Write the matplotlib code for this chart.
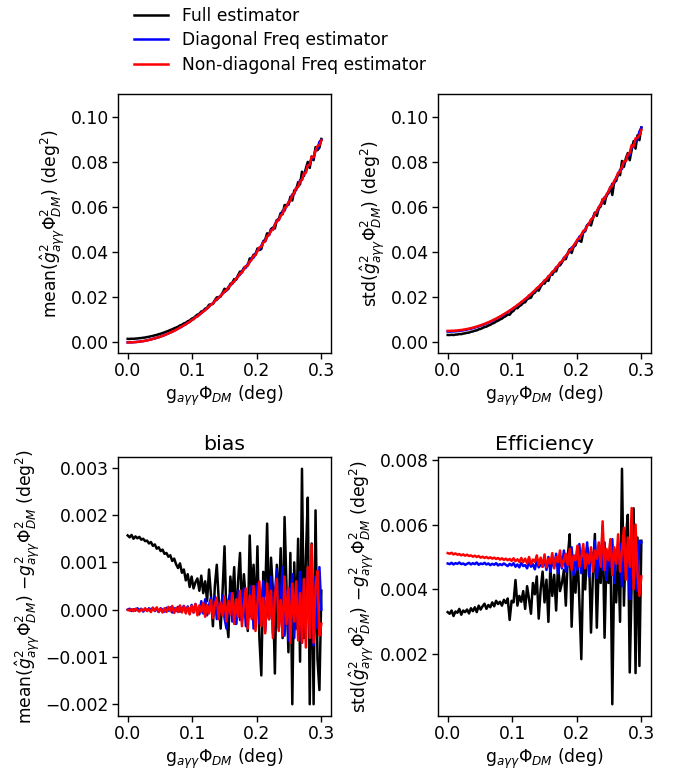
import numpy as np
import matplotlib
matplotlib.use("Agg")
import matplotlib.pyplot as plt

plt.rcParams["font.size"] = 12.3
plt.rcParams["lines.linewidth"] = 1.8
plt.rcParams["axes.linewidth"] = 1.0
plt.rcParams["axes.labelpad"] = 2.5
for t in ("xtick", "ytick"):
    plt.rcParams[t + ".major.size"] = 4.0
    plt.rcParams[t + ".major.width"] = 1.0
    plt.rcParams[t + ".major.pad"] = 2.5

# coupling grid, 101 points from 0 to 0.3 deg
g = np.linspace(0, 0.3, 101)

# bias = mean(g_hat^2) - g^2, in units of 1e-5 deg^2
bias_full = [157, 153, 158, 150, 155, 151, 154, 148, 150, 145,
             146, 140, 143, 135, 138, 129, 132, 124, 127, 118,
             120, 112, 115, 103, 108, 96, 88, 98, 78, 85,
             62, 75, 48, 70, 45, 58, 66, 40, 72, 35,
             60, 18, 85, 30, -35, 50, 95, 20, -40, 40,
             134, -20, -58, 70, 25, 90, -30, 60, 120, -10,
             75, 20, -45, 157, 30, 95, -20, 134, -60, -139,
             80, 30, 182, -20, 110, 40, -135, 95, 10, 130,
             -60, 196, 50, -90, 120, -200, 100, -40, 150, -110,
             298, -60, 110, 237, -200, 140, -200, 210, -104, -170,
             40]
bias_diag = [0, 2, -3, 1, -2, 3, -1, 2, -4, 1,
             -2, 3, -1, 4, -3, 2, -5, 3, 0, -4,
             4, -2, 5, -6, 3, -3, 6, -4, 2, 8,
             -5, 7, -8, 10, -6, 12, -4, -10, 18, -8,
             22, -12, 10, 25, -15, 28, -20, 15, -5, 30,
             -18, -40, 20, 35, -25, 10, -30, 40, -22, 15,
             45, -35, 25, -15, 50, -40, 20, 55, -30, 10,
             60, -45, 30, -20, 70, -50, 35, 85, -40, 15,
             90, -55, 40, -65, 20, 75, -60, 50, -45, 80,
             -70, 60, -30, 85, -50, 45, -75, 70, -40, 90,
             0]
bias_nondiag = [0, -2, 1, -3, 2, -1, -4, 1, -2, 3,
                -3, 1, -5, 4, -2, 5, -4, 2, -6, 3,
                -5, 6, -3, 8, -7, 4, -5, 9, -6, 7,
                -8, 5, -10, 8, -6, 12, -12, 9, -5, 14,
                -15, 10, -8, 20, -18, 12, 25, -20, 15, -12,
                28, -25, 18, -10, 35, -30, 22, -15, 40, -35,
                10, 45, -40, 30, -20, 50, -45, 15, 60, -35,
                25, -50, 55, -20, 40, -60, 30, 65, -45, 20,
                -55, 70, -30, 45, -70, 55, -25, 60, -65, 35,
                -70, 65, -80, 90, -60, 138, -70, 50, 82, -55,
                -30]

# efficiency = std(g_hat^2) - g^2, in units of 1e-5 deg^2
eff_full = [330, 325, 335, 318, 332, 328, 340, 322, 335, 330,
            338, 326, 342, 333, 345, 330, 350, 338, 348, 356,
            340, 352, 345, 360, 348, 365, 355, 362, 350, 368,
            358, 372, 306, 365, 360, 429, 350, 380, 362, 395,
            340, 410, 370, 325, 420, 385, 440, 310, 400, 455,
            360, 430, 300, 470, 380, 445, 335, 480, 395, 420,
            460, 350, 500, 570, 285, 450, 390, 520, 360, 185,
            480, 400, 530, 500, 267, 450, 571, 282, 480, 420,
            595, 251, 500, 420, 550, 46, 480, 360, 520, 300,
            772, 350, 560, 630, 144, 420, 650, 142, 560, 164,
            550]
eff_diag = [480, 478, 482, 477, 481, 479, 483, 478, 480, 476,
            479, 482, 477, 481, 478, 483, 476, 480, 478, 482,
            477, 480, 475, 479, 476, 481, 474, 478, 475, 480,
            476, 472, 479, 474, 481, 470, 477, 468, 482, 472,
            475, 465, 485, 470, 478, 462, 488, 468, 476, 470,
            490, 460, 500, 455, 485, 470, 510, 450, 495, 465,
            520, 455, 490, 470, 530, 445, 505, 460, 540, 450,
            500, 470, 545, 440, 515, 480, 550, 435, 500, 520,
            460, 545, 430, 510, 470, 555, 420, 520, 480, 540,
            410, 560, 450, 520, 370, 540, 430, 490, 395, 550,
            545]
eff_nondiag = [512, 510, 513, 508, 511, 507, 509, 505, 508, 504,
               507, 503, 505, 501, 504, 500, 503, 498, 501, 497,
               500, 496, 499, 495, 498, 494, 497, 492, 496, 491,
               495, 490, 494, 488, 496, 487, 493, 485, 497, 484,
               495, 480, 500, 478, 492, 485, 505, 475, 498, 470,
               508, 468, 495, 480, 512, 465, 500, 485, 520, 470,
               490, 510, 475, 525, 460, 505, 490, 535, 470, 500,
               540, 465, 510, 480, 530, 455, 520, 495, 545, 470,
               610, 460, 525, 490, 555, 445, 530, 480, 570, 455,
               520, 590, 430, 560, 470, 651, 400, 600, 450, 380,
               440]

labels = ["Full estimator", "Diagonal Freq estimator", "Non-diagonal Freq estimator"]
colors = ["black", "blue", "red"]

bias = [np.array(b) * 1e-5 for b in (bias_full, bias_diag, bias_nondiag)]
eff = [np.array(e) * 1e-5 for e in (eff_full, eff_diag, eff_nondiag)]

fig = plt.figure(figsize=(6.81, 7.7), dpi=100)
ax1 = fig.add_axes([0.1733, 0.5416, 0.3128, 0.3364])
ax2 = fig.add_axes([0.6432, 0.5416, 0.3128, 0.3364])
ax3 = fig.add_axes([0.1733, 0.0701, 0.3128, 0.3364])
ax4 = fig.add_axes([0.6432, 0.0701, 0.3128, 0.3364])

xlab = r"g$_{a\gamma\gamma}\Phi_{DM}$ (deg)"

for b, e, c, lab in zip(bias, eff, colors, labels):
    ax1.plot(g, g**2 + b, color=c, label=lab)
    ax2.plot(g, g**2 + e, color=c)
    ax3.plot(g, b, color=c)
    ax4.plot(g, e, color=c)

ax1.set_ylim(-0.0047, 0.1104)
ax2.set_ylim(-0.0047, 0.1104)
ax1.set_ylabel(r"mean($\hat{g}^2_{a\gamma\gamma}\Phi^2_{DM}$) (deg$^2$)")
ax2.set_ylabel(r"std($\hat{g}^2_{a\gamma\gamma}\Phi^2_{DM}$) (deg$^2$)")
ax3.set_ylabel(r"mean($\hat{g}^2_{a\gamma\gamma}\Phi^2_{DM}$) $- g^2_{a\gamma\gamma}\Phi^2_{DM}$ (deg$^2$)")
ax4.set_ylabel(r"std($\hat{g}^2_{a\gamma\gamma}\Phi^2_{DM}$) $- g^2_{a\gamma\gamma}\Phi^2_{DM}$ (deg$^2$)")
ax3.set_title("bias", pad=5)
ax4.set_title("Efficiency", pad=5)
ax4.set_yticks([0.002, 0.004, 0.006, 0.008])

for ax in (ax1, ax2, ax3, ax4):
    ax.set_xlabel(xlab)
    ax.set_xticks([0.0, 0.1, 0.2, 0.3])

fig.legend(loc="upper left", bbox_to_anchor=(0.187, 1.0), frameon=False,
           borderaxespad=0, labelspacing=0.38)

fig.savefig("out.png", dpi=100)
